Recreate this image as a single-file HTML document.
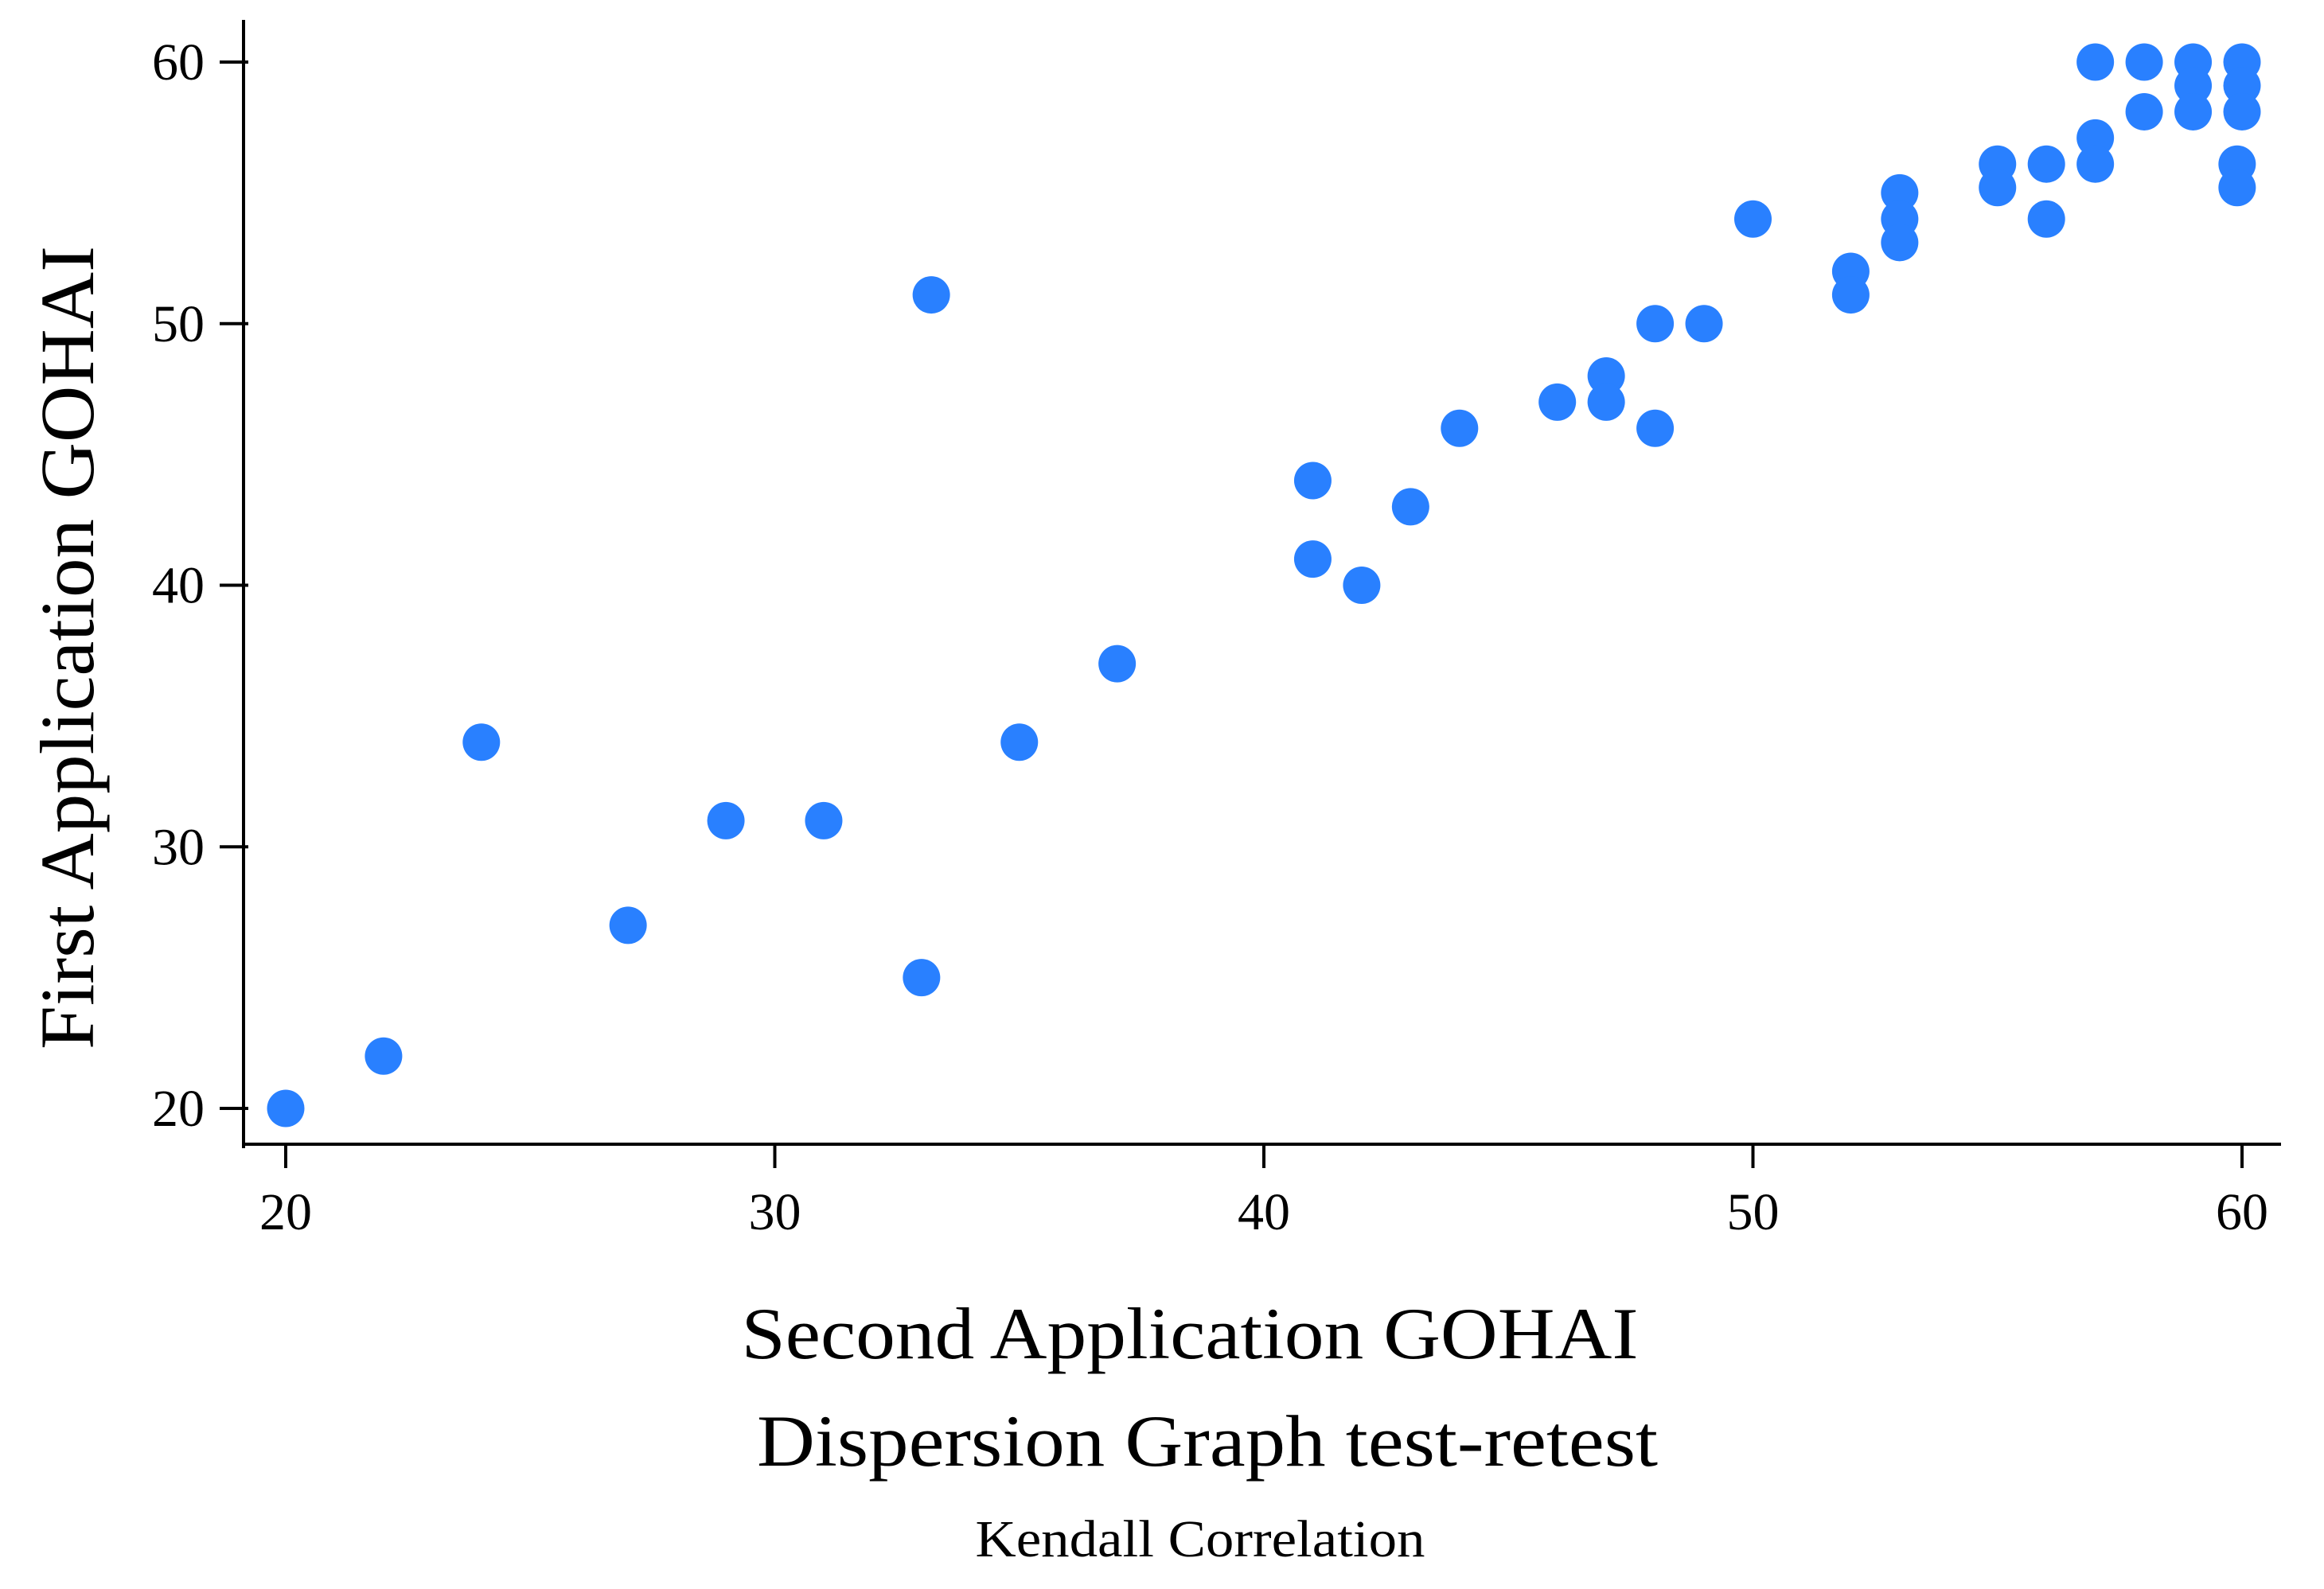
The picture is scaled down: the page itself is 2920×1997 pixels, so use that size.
<!DOCTYPE html>
<html><head><meta charset="utf-8"><style>html,body{margin:0;padding:0;background:#fff}svg{display:block}text{font-family:"Liberation Serif",serif;fill:#000}</style></head>
<body>
<svg id="chart" width="2920" height="1997" viewBox="0 0 2920 1997" xmlns="http://www.w3.org/2000/svg">
<g id="axes"></g>
<g id="points"></g>
<text transform="translate(117,814) rotate(-90)" text-anchor="middle" font-size="96" textLength="1010" lengthAdjust="spacingAndGlyphs">First Application GOHAI</text>
<text x="1495" y="1707" text-anchor="middle" font-size="92" textLength="1127" lengthAdjust="spacingAndGlyphs">Second Application GOHAI</text>
<text x="1517" y="1842" text-anchor="middle" font-size="92" textLength="1132" lengthAdjust="spacingAndGlyphs">Dispersion Graph test-retest</text>
<text x="1508" y="1956" text-anchor="middle" font-size="66" textLength="565" lengthAdjust="spacingAndGlyphs">Kendall Correlation</text>
</svg>
<script>
const xValues = [20,22,24,27,29,31,33,33.2,35,37,41,41,42,43,44,46,47,47,48,48,49,50,52,52,53,53,53,55,55,56,56,57,57,57,58,58,59,59,59,60,60,60,59.9,59.9];
const yValues = [20,22,34,27,31,31,25,51.1,34,37,44,41,40,43,46,47,48,47,50,46,50,54,52,51.1,55,54,53.1,56.1,55.2,56.1,54,60,57.1,56.1,60,58.1,60,59.1,58.1,60,59.1,58.1,56.1,55.2];
const xTicks = [20,30,40,50,60];
const yTicks = [20,30,40,50,60];

const NS = "http://www.w3.org/2000/svg";
const xs = v => 359 + (v - 20) * (2817 - 359) / 40;
const ys = v => 1393 - (v - 20) * (1393 - 78) / 40;
function mk(tag, attrs, parent){const e=document.createElementNS(NS,tag);for(const k in attrs)e.setAttribute(k,attrs[k]);parent.appendChild(e);return e;}
const axes=document.getElementById('axes');
let l=mk('line',{x1:306,y1:25,x2:306,y2:1443,stroke:'#000','stroke-width':4},axes);


l=mk('line',{x1:304,y1:1438,x2:2866,y2:1438,stroke:'#000','stroke-width':4},axes);


xTicks.forEach(t=>{
  const tk=mk('line',{x1:xs(t),y1:1438,x2:xs(t),y2:1468,stroke:'#000','stroke-width':4},axes);
  
  
  const tx=mk('text',{x:xs(t),y:1545,'text-anchor':'middle','font-size':66},axes);
  tx.textContent=t;
  
  
});
yTicks.forEach(t=>{
  const tk=mk('line',{x1:276,y1:ys(t),x2:312,y2:ys(t),stroke:'#000','stroke-width':4},axes);
  
  
  const tx=mk('text',{x:257,y:ys(t)+22,'text-anchor':'end','font-size':66},axes);
  tx.textContent=t;
  
  
});
const pts=document.getElementById('points');
xValues.forEach((x,i)=>{
  const c=mk('circle',{cx:xs(x),cy:ys(yValues[i]),r:23.5,fill:'#2980ff'},pts);
  
  
});
</script>
</body></html>
